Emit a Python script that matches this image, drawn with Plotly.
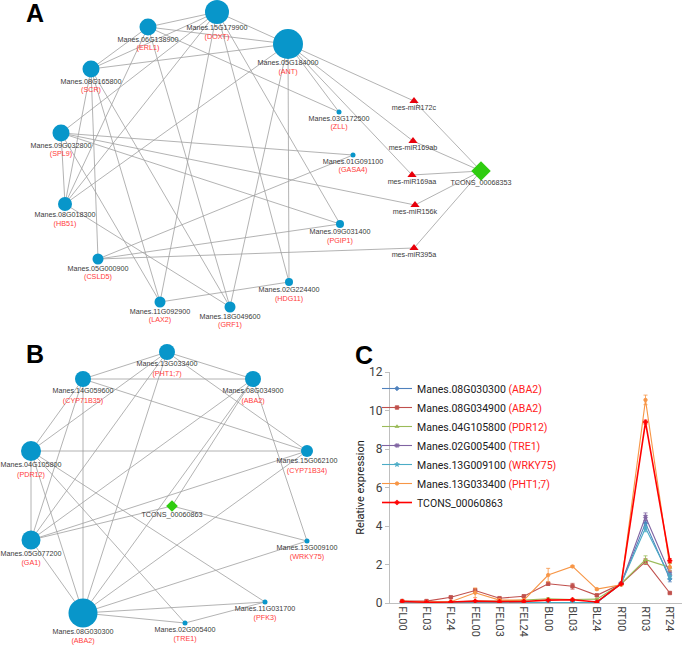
import plotly.graph_objects as go

# ---------------- Network A data ----------------
A_names = ["Manes.15G179900", "Manes.06G138900", "Manes.05G184000", "Manes.08G165800",
           "Manes.09G032800", "Manes.08G018300", "Manes.05G000900", "Manes.11G092900",
           "Manes.18G049600", "Manes.02G224400", "Manes.09G031400", "Manes.01G091100",
           "Manes.03G172500"]
A_genes = ["DOXT", "ERL1", "ANT", "SCR", "SPL9", "HB51", "CSLD5", "LAX2", "GRF1",
           "HDG11", "PGIP1", "GASA4", "ZLL"]
A_x = [217, 148, 288, 91, 61, 65, 98, 160, 230, 289, 340, 353, 339]
A_y = [12, 27, 44, 69, 133, 204, 259, 302, 307, 282, 224, 155, 112]
A_degree = [12, 8.5, 15, 8.5, 8.5, 7, 5.5, 5.5, 5.5, 4, 4, 2.5, 2.5]
A_mirs = ["mes-miR172c", "mes-miR169ab", "mes-miR169aa", "mes-miR156k", "mes-miR395a"]
A_mir_x = [414, 413, 412, 415, 414]
A_mir_y = [101, 141, 175, 205, 248]
A_lnc = ["TCONS_00068353"]
A_lnc_x = [481]
A_lnc_y = [171]
A_edges = [
    ("DOXT", "ERL1"), ("DOXT", "ANT"), ("ERL1", "ANT"), ("DOXT", "SCR"), ("ERL1", "SCR"),
    ("SCR", "ANT"), ("DOXT", "HB51"), ("ERL1", "HB51"), ("ANT", "HB51"), ("SCR", "HB51"),
    ("ERL1", "ZLL"), ("ANT", "ZLL"), ("ANT", "mes-miR172c"), ("ANT", "mes-miR169ab"),
    ("ANT", "mes-miR169aa"), ("ANT", "HDG11"), ("DOXT", "PGIP1"), ("DOXT", "LAX2"),
    ("DOXT", "HDG11"), ("ERL1", "GRF1"), ("SCR", "LAX2"), ("SCR", "GRF1"), ("SCR", "CSLD5"),
    ("SPL9", "GASA4"), ("SPL9", "mes-miR156k"), ("SPL9", "PGIP1"), ("SPL9", "HB51"),
    ("SPL9", "DOXT"), ("SPL9", "LAX2"), ("HB51", "GRF1"), ("CSLD5", "GASA4"),
    ("CSLD5", "PGIP1"), ("CSLD5", "mes-miR395a"), ("LAX2", "HDG11"), ("GRF1", "ANT"),
    ("mes-miR172c", "TCONS_00068353"), ("mes-miR169ab", "TCONS_00068353"),
    ("mes-miR169aa", "TCONS_00068353"), ("mes-miR156k", "TCONS_00068353"),
    ("mes-miR395a", "TCONS_00068353"),
]

# ---------------- Network B data ----------------
B_names = ["Manes.13G033400", "Manes.14G059600", "Manes.08G034900", "Manes.04G105800",
           "Manes.15G062100", "Manes.05G077200", "Manes.13G009100", "Manes.08G030300",
           "Manes.11G031700", "Manes.02G005400"]
B_genes = ["PHT1;7", "CYP71B35", "ABA2", "PDR12", "CYP71B34", "GA1", "WRKY75", "ABA2",
           "PFK3", "TRE1"]
B_x = [167, 83, 253, 31, 307, 31, 307, 83, 265, 185]
B_y = [352, 379, 379, 451, 451, 540, 541, 613, 602, 623]
B_degree = [8, 8, 8, 10, 6, 9.5, 2.5, 14.5, 2.5, 2.5]
B_lnc = ["TCONS_00060863"]
B_lnc_x = [172]
B_lnc_y = [506]
B_edges = [
    ("Manes.13G033400", "Manes.14G059600"), ("Manes.13G033400", "Manes.08G034900"),
    ("Manes.14G059600", "Manes.08G034900"), ("Manes.13G033400", "Manes.15G062100"),
    ("Manes.13G033400", "Manes.04G105800"), ("Manes.13G033400", "Manes.05G077200"),
    ("Manes.13G033400", "Manes.08G030300"), ("Manes.14G059600", "Manes.04G105800"),
    ("Manes.14G059600", "Manes.05G077200"), ("Manes.14G059600", "Manes.08G030300"),
    ("Manes.14G059600", "Manes.15G062100"), ("Manes.08G034900", "Manes.05G077200"),
    ("Manes.08G034900", "TCONS_00060863"), ("Manes.08G034900", "Manes.08G030300"),
    ("Manes.08G034900", "Manes.13G009100"), ("Manes.04G105800", "Manes.15G062100"),
    ("Manes.04G105800", "Manes.05G077200"), ("Manes.04G105800", "Manes.02G005400"),
    ("Manes.04G105800", "Manes.11G031700"), ("Manes.04G105800", "Manes.08G030300"),
    ("Manes.15G062100", "Manes.05G077200"), ("Manes.15G062100", "Manes.08G030300"),
    ("TCONS_00060863", "Manes.05G077200"), ("TCONS_00060863", "Manes.13G009100"),
    ("Manes.05G077200", "Manes.08G030300"), ("Manes.13G009100", "Manes.08G030300"),
    ("Manes.11G031700", "Manes.08G030300"), ("Manes.11G031700", "Manes.02G005400"),
    ("Manes.02G005400", "Manes.08G030300"),
]

# ---------------- Panel C data ----------------
stages = ["FL00", "FL03", "FL24", "FEL00", "FEL03", "FEL24", "BL00", "BL03", "BL24",
          "RT00", "RT03", "RT24"]
series_names = ["Manes.08G030300", "Manes.08G034900", "Manes.04G105800", "Manes.02G005400",
                "Manes.13G009100", "Manes.13G033400", "TCONS_00060863"]
series_genes = ["ABA2", "ABA2", "PDR12", "TRE1", "WRKY75", "PHT1;7", ""]
expr_08G030300 = [0.02, 0.02, 0.02, 0.03, 0.03, 0.03, 0.03, 0.05, 0.03, 1.0, 4.15, 1.25]
expr_08G034900 = [0.10, 0.10, 0.30, 0.65, 0.25, 0.35, 1.00, 0.87, 0.40, 1.0, 2.15, 0.52]
expr_04G105800 = [0.05, 0.05, 0.05, 0.10, 0.10, 0.15, 0.22, 0.18, 0.20, 1.0, 2.25, 1.85]
expr_02G005400 = [0.02, 0.02, 0.02, 0.03, 0.02, 0.02, 0.05, 0.05, 0.03, 1.0, 4.48, 1.55]
expr_13G009100 = [0.02, 0.02, 0.02, 0.02, 0.02, 0.02, 0.03, 0.03, 0.03, 1.0, 3.90, 1.38]
expr_13G033400 = [0.10, 0.05, 0.07, 0.53, 0.15, 0.15, 1.45, 1.90, 0.72, 0.95, 10.55, 1.87]
expr_TCONS = [0.08, 0.04, 0.05, 0.10, 0.07, 0.08, 0.15, 0.17, 0.05, 1.0, 9.40, 2.20]
err_08G030300 = [0.01, 0.01, 0.01, 0.01, 0.01, 0.01, 0.01, 0.02, 0.01, 0.03, 0.15, 0.15]
err_08G034900 = [0.02, 0.02, 0.04, 0.10, 0.04, 0.05, 0.08, 0.15, 0.05, 0.03, 0.15, 0.04]
err_04G105800 = [0.01, 0.01, 0.01, 0.02, 0.02, 0.03, 0.05, 0.03, 0.03, 0.03, 0.20, 0.20]
err_02G005400 = [0.01, 0.01, 0.01, 0.01, 0.01, 0.01, 0.01, 0.01, 0.01, 0.03, 0.20, 0.15]
err_13G009100 = [0.01, 0.01, 0.01, 0.01, 0.01, 0.01, 0.01, 0.01, 0.01, 0.03, 0.20, 0.15]
err_13G033400 = [0.03, 0.02, 0.02, 0.25, 0.05, 0.05, 0.35, 0.05, 0.05, 0.05, 0.25, 0.20]
err_TCONS = [0.02, 0.01, 0.01, 0.02, 0.02, 0.02, 0.03, 0.03, 0.02, 0.03, 0.10, 0.10]

expr_all = [expr_08G030300, expr_08G034900, expr_04G105800, expr_02G005400,
            expr_13G009100, expr_13G033400, expr_TCONS]
err_all = [err_08G030300, err_08G034900, err_04G105800, err_02G005400,
           err_13G009100, err_13G033400, err_TCONS]

# ---------------- styles ----------------
W, H = 685, 653
NODE_BLUE = "#0896CA"
EDGE = "#A0A0A0"
LBL = "#3A3A3A"
RED = "#FF3B3B"
NETFONT = "Liberation Sans"
series_colors = ["#4F81BD", "#C0504D", "#9BBB59", "#8064A2", "#4BACC6", "#F79646", "#FF0000"]
series_symbols = ["diamond", "square", "triangle-up", "x", "star", "circle", "cross"]

fig = go.Figure()


def edge_trace(pos, edges):
    xs, ys = [], []
    for a, b in edges:
        xs += [pos[a][0], pos[b][0], None]
        ys += [pos[a][1], pos[b][1], None]
    return go.Scatter(x=xs, y=ys, mode="lines", line=dict(color=EDGE, width=0.8),
                      hoverinfo="skip", showlegend=False, xaxis="x", yaxis="y")


def add_network(names, genes, short, xs, ys, deg, edges, extra_pos, mir=None, lnc=None,
                dname=4.5, dgene=9.0, lnc_size=15):
    pos = {}
    for k, x, y in zip(short, xs, ys):
        pos[k] = (x, y)
    pos.update(extra_pos)
    fig.add_trace(edge_trace(pos, edges))
    if mir is not None:
        mn, mx, my = mir
        fig.add_trace(go.Scatter(x=mx, y=my, mode="markers", opacity=1,
                                 marker=dict(symbol="triangle-up", size=8, color="#E8000B"),
                                 hoverinfo="skip", showlegend=False, xaxis="x", yaxis="y"))
        fig.add_trace(go.Scatter(x=mx, y=[v + 7 for v in my], mode="text", text=mn,
                                 textfont=dict(family=NETFONT, size=7.2, color=LBL),
                                 cliponaxis=False,
                                 hoverinfo="skip", showlegend=False, xaxis="x", yaxis="y"))
    ln, lx, ly = lnc
    fig.add_trace(go.Scatter(x=lx, y=ly, mode="markers", opacity=1,
                             marker=dict(symbol="diamond", size=lnc_size, color="#2FCC10"),
                             hoverinfo="skip", showlegend=False, xaxis="x", yaxis="y"))
    fig.add_trace(go.Scatter(x=lx, y=[v + lnc_size * 0.5 + 4.5 for v in ly], mode="text",
                             text=ln, textfont=dict(family=NETFONT, size=7.2, color=LBL),
                             cliponaxis=False,
                             hoverinfo="skip", showlegend=False, xaxis="x", yaxis="y"))
    fig.add_trace(go.Scatter(x=xs, y=ys, mode="markers", opacity=1, cliponaxis=False,
                             marker=dict(size=[2 * d for d in deg], color=NODE_BLUE,
                                         opacity=1, line=dict(width=0)),
                             hoverinfo="skip", showlegend=False, xaxis="x", yaxis="y"))
    name_y = [y + d + dname for y, d in zip(ys, deg)]
    fig.add_trace(go.Scatter(x=xs, y=name_y, mode="text", text=names, cliponaxis=False,
                             textfont=dict(family=NETFONT, size=7.2, color=LBL),
                             hoverinfo="skip", showlegend=False, xaxis="x", yaxis="y"))
    fig.add_trace(go.Scatter(x=xs, y=[v + dgene for v in name_y], mode="text",
                             text=["(" + g + ")" for g in genes], cliponaxis=False,
                             textfont=dict(family=NETFONT, size=7.2, color=RED),
                             hoverinfo="skip", showlegend=False, xaxis="x", yaxis="y"))


# Network A
extraA = {m: (x, y) for m, x, y in zip(A_mirs, A_mir_x, A_mir_y)}
extraA[A_lnc[0]] = (A_lnc_x[0], A_lnc_y[0])
add_network(A_names, A_genes, A_genes, A_x, A_y, A_degree, A_edges, extraA,
            mir=(A_mirs, A_mir_x, A_mir_y), lnc=(A_lnc, A_lnc_x, A_lnc_y),
            dname=4.5, dgene=8.5, lnc_size=15)

# Network B
extraB = {B_lnc[0]: (B_lnc_x[0], B_lnc_y[0])}
add_network(B_names, B_genes, B_names, B_x, B_y, B_degree, B_edges, extraB,
            mir=None, lnc=(B_lnc, B_lnc_x, B_lnc_y), dname=4.5, dgene=9.5, lnc_size=9)

# Panel C lines
for nm, g, vals, errs, col, sym in zip(series_names, series_genes, expr_all, err_all,
                                       series_colors, series_symbols):
    label = nm if not g else nm + " <span style='color:#FF2020'>(" + g + ")</span>"
    fig.add_trace(go.Scatter(
        x=stages, y=vals, mode="lines+markers", name=label,
        line=dict(color=col, width=1.6 if col == "#FF0000" else 1.1),
        marker=dict(symbol=sym, size=3.5, color=col, line=dict(color=col, width=0.8)),
        error_y=dict(type="data", array=errs, visible=True, color=col, thickness=0.8, width=2),
        xaxis="x2", yaxis="y2", showlegend=True))

# panel letters
for letter, lx, ly in [("A", 35, 13), ("B", 35, 354), ("C", 364, 355)]:
    fig.add_annotation(x=lx, y=ly, xref="x", yref="y", text="<b>" + letter + "</b>",
                       showarrow=False, font=dict(family="Liberation Sans", size=25, color="black"),
                       xanchor="center", yanchor="middle")


def px_x(px):
    return px / W


def px_y(py):
    return (H - py) / H


fig.update_layout(
    width=W, height=H, autosize=False,
    margin=dict(l=0, r=0, t=0, b=0, autoexpand=False),
    paper_bgcolor="white", plot_bgcolor="rgba(0,0,0,0)",
    xaxis=dict(domain=[0, 1], range=[0, W], visible=False, fixedrange=True, automargin=False),
    yaxis=dict(domain=[0, 1], range=[H, 0], visible=False, fixedrange=True, automargin=False),
    xaxis2=dict(domain=[px_x(390), px_x(682)], anchor="y2", type="category",
                categoryorder="array", categoryarray=stages, range=[-0.5, 11.5],
                showline=True, automargin=False, fixedrange=True,
                linecolor="#BFBFBF", linewidth=1, ticks="", tickangle=90,
                tickfont=dict(family="Roboto", size=11, color="#404040"), showgrid=False,
                zeroline=False),
    yaxis2=dict(domain=[px_y(603), px_y(372)], anchor="x2", range=[0, 12], dtick=2,
                showline=True, automargin=False, fixedrange=True,
                linecolor="#BFBFBF", linewidth=1, ticks="outside", ticklen=4,
                tickcolor="#BFBFBF", showgrid=False, zeroline=False,
                tickfont=dict(family="Roboto", size=12, color="#404040"),
                title=dict(text="Relative expression", standoff=2,
                           font=dict(family="Roboto", size=11, color="#202020"))),
    legend=dict(x=px_x(377), y=px_y(374), xanchor="left", yanchor="top",
                bgcolor="rgba(0,0,0,0)", itemwidth=30, tracegroupgap=0,
                font=dict(family="Roboto", size=10.5, color="#202020")),
)

fig.write_html("out.html", config={"displayModeBar": False},
               post_script="document.body.style.margin='0';document.body.style.overflow='hidden';")
